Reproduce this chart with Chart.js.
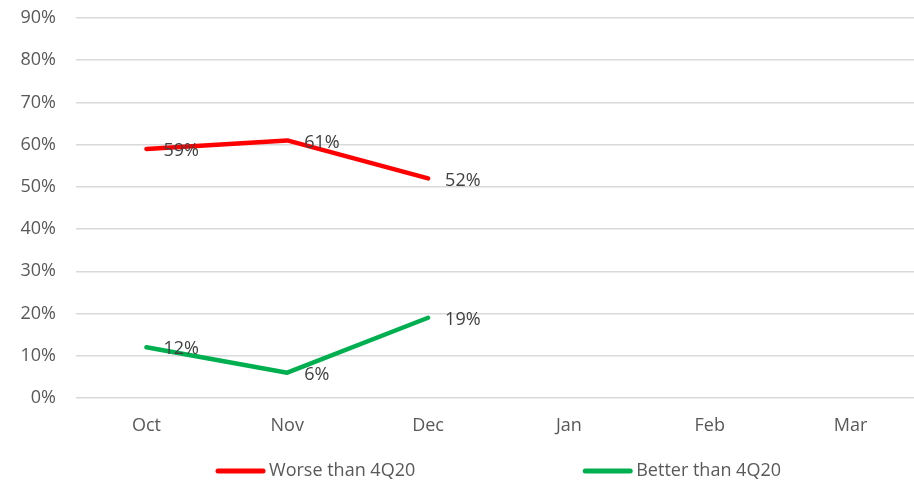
<!DOCTYPE html>
<html lang="en">
<head>
<meta charset="UTF-8">
<title>Worse / Better than 4Q20</title>
<script src="https://cdn.jsdelivr.net/npm/chart.js"></script>
<style>
html, body {margin: 0; padding: 0; background: #fff; overflow: hidden}
#chart {display: block}
</style>
</head>
<body>
<canvas id="chart" width="921" height="481"></canvas>
<script>
// months shown on the x axis
const months = ['Oct', 'Nov', 'Dec', 'Jan', 'Feb', 'Mar'];
// share of answers, in percent (only Oct-Dec reported so far)
const worseThan4Q20 = [59, 61, 52, null, null, null];
const betterThan4Q20 = [12, 6, 19, null, null, null];
// y axis range and step, percent
const yMin = 0;
const yMax = 90;
const yStep = 10;

const FONT = '"Open Sans", sans-serif';
const FONT_SIZE = 18;
const TEXT_GREY = '#595959';
const LABEL_GREY = '#404040';

// value labels to the right of every point
const pointLabels = {
  id: 'pointLabels',
  afterDatasetsDraw(chart) {
    const ctx = chart.ctx;
    ctx.save();
    ctx.font = FONT_SIZE + 'px ' + FONT;
    ctx.fillStyle = LABEL_GREY;
    ctx.textAlign = 'left';
    ctx.textBaseline = 'middle';
    chart.data.datasets.forEach((ds, i) => {
      const meta = chart.getDatasetMeta(i);
      meta.data.forEach((pt, j) => {
        const v = ds.data[j];
        if (v === null || v === undefined) return;
        ctx.fillText(v + '%', pt.x + 17, pt.y + 2);
      });
    });
    ctx.restore();
  }
};

// line-swatch legend centred under the plot area
const lineLegend = {
  id: 'lineLegend',
  afterDraw(chart) {
    const ctx = chart.ctx;
    const area = chart.chartArea;
    const swatch = 49, textGap = 4, itemGap = 168;
    const y = 471;
    ctx.save();
    ctx.font = FONT_SIZE + 'px ' + FONT;
    const items = chart.data.datasets.map(ds => ({
      label: ds.label,
      color: ds.borderColor,
      w: swatch + textGap + ctx.measureText(ds.label).width
    }));
    const total = items.reduce((s, it) => s + it.w, 0) + itemGap * (items.length - 1);
    let x = (area.left + area.right) / 2 - total / 2;
    items.forEach(it => {
      ctx.strokeStyle = it.color;
      ctx.lineWidth = 5;
      ctx.lineCap = 'round';
      ctx.beginPath();
      ctx.moveTo(x + 2, y);
      ctx.lineTo(x + swatch - 2, y);
      ctx.stroke();
      ctx.fillStyle = TEXT_GREY;
      ctx.textAlign = 'left';
      ctx.textBaseline = 'middle';
      ctx.fillText(it.label, x + swatch + textGap, y);
      x += it.w + itemGap;
    });
    ctx.restore();
  }
};

new Chart(document.getElementById('chart'), {
  type: 'line',
  data: {
    labels: months,
    datasets: [{
      label: 'Worse than 4Q20',
      data: worseThan4Q20,
      borderColor: '#FF0000',
      backgroundColor: '#FF0000',
      borderWidth: 4.5,
      borderCapStyle: 'round',
      borderJoinStyle: 'round',
      pointRadius: 0,
      spanGaps: false
    }, {
      label: 'Better than 4Q20',
      data: betterThan4Q20,
      borderColor: '#00B050',
      backgroundColor: '#00B050',
      borderWidth: 4.5,
      borderCapStyle: 'round',
      borderJoinStyle: 'round',
      pointRadius: 0,
      spanGaps: false
    }]
  },
  options: {
    responsive: false,
    animation: false,
    layout: {padding: {top: 18, right: 0, bottom: 43, left: 0}},
    plugins: {
      legend: {display: false},
      tooltip: {enabled: false}
    },
    scales: {
      x: {
        offset: true,
        grid: {display: false},
        border: {display: false},
        ticks: {color: TEXT_GREY, font: {family: FONT, size: FONT_SIZE}, padding: 9, maxRotation: 0},
        afterFit(scale) { scale.height = 40; }
      },
      y: {
        min: yMin,
        max: yMax,
        border: {display: false},
        grid: {color: '#d9d9d9', lineWidth: 1.5, drawTicks: false},
        ticks: {
          stepSize: yStep,
          color: TEXT_GREY,
          font: {family: FONT, size: FONT_SIZE},
          padding: 20,
          callback: v => v + '%'
        },
        afterFit(scale) {
          scale.width = 76;
          scale.paddingTop = 0;
          scale.paddingBottom = 0;
        }
      }
    }
  },
  plugins: [pointLabels, lineLegend]
});
</script>
</body>
</html>
